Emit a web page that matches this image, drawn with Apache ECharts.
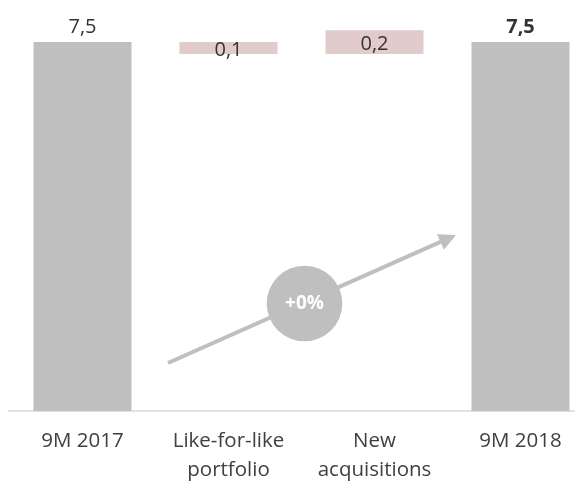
<!DOCTYPE html>
<html>
<head>
<meta charset="utf-8">
<script src="https://cdn.jsdelivr.net/npm/echarts@6/dist/echarts.min.js"></script>
<style>
  html, body { margin: 0; padding: 0; background: #ffffff; }
  #chart { width: 575px; height: 482px; }
</style>
</head>
<body>
<div id="chart"></div>
<script>
// Bridge of the result from 9M 2017 to 9M 2018
const categories = ['9M 2017', 'Like-for-like\nportfolio', 'New\nacquisitions', '9M 2018'];
const totals = [7.5, null, null, 7.5];       // opening and closing totals
const changes = [null, -0.1, 0.2, null];     // movements between them
const growthLabel = '+0%';

const FONT = '"Open Sans", "Noto Sans", sans-serif';
const GREY = '#bfbfbf';
const PINK = '#e2cbcb';
const TEXT = '#333333';

// Floating pieces of the waterfall: invisible base + visible step
const baseData = [];
const stepData = [];
const totalData = [];
let level = totals[0];
for (let i = 0; i < categories.length; i++) {
  if (totals[i] != null) {
    baseData.push('-');
    stepData.push('-');
    totalData.push(totals[i]);
    level = totals[i];
  } else {
    const c = changes[i];
    const start = c < 0 ? level + c : level;
    baseData.push(+start.toFixed(4));
    stepData.push({ value: Math.abs(c), signed: c });
    totalData.push('-');
    level = +(level + c).toFixed(4);
  }
}

const fmt = v => Math.abs(v).toFixed(1).replace('.', ',');

const chart = echarts.init(document.getElementById('chart'), null, { renderer: 'canvas' });

// Growth arrow geometry (annotation)
const tail = [168, 363];
const tip = [456, 235];
const dx = tip[0] - tail[0], dy = tip[1] - tail[1];
const len = Math.hypot(dx, dy);
const ux = dx / len, uy = dy / len;
const headLen = 17, headHalf = 8.5;
const bx = tip[0] - ux * headLen, by = tip[1] - uy * headLen;
const nx = -uy, ny = ux;

const BAR_W = 98;

chart.setOption({
  animation: false,
  backgroundColor: '#ffffff',
  grid: {
    left: 9.5, width: 584, top: 18.26, bottom: 71,
    containLabel: false,
    outerBoundsMode: 'none'
  },
  xAxis: {
    type: 'category',
    data: categories,
    axisLine: { show: false },
    axisTick: { show: false },
    axisLabel: {
      color: '#404040',
      fontFamily: FONT,
      fontSize: 20.5,
      lineHeight: 29,
      margin: 16,
      interval: 0,
      hideOverlap: false
    }
  },
  yAxis: {
    type: 'value',
    min: 4.4,
    max: 7.7,
    show: false,
    splitLine: { show: false }
  },
  series: [
    {
      name: 'base',
      type: 'bar',
      stack: 'bridge',
      barWidth: BAR_W,
      clip: true,
      itemStyle: { color: 'transparent' },
      emphasis: { disabled: true },
      data: baseData
    },
    {
      name: 'change',
      type: 'bar',
      stack: 'bridge',
      barWidth: BAR_W,
      clip: true,
      itemStyle: { color: PINK },
      label: {
        show: true,
        position: 'inside',
        color: TEXT,
        fontFamily: FONT,
        fontSize: 20,
        offset: [0, 2],
        formatter: p => fmt(p.data.signed)
      },
      data: stepData
    },
    {
      name: 'total',
      type: 'bar',
      stack: 'bridge',
      barWidth: BAR_W,
      clip: true,
      itemStyle: { color: GREY },
      label: {
        show: true,
        position: 'top',
        distance: 5,
        color: TEXT,
        fontFamily: FONT,
        fontSize: 20,
        formatter: p => p.dataIndex === categories.length - 1
          ? '{b|' + fmt(p.value) + '}'
          : fmt(p.value),
        rich: {
          b: { fontFamily: FONT, fontSize: 20, fontWeight: 'bold', color: TEXT }
        }
      },
      data: totalData
    }
  ],
  graphic: [
    {
      type: 'line',
      shape: { x1: 8, y1: 411, x2: 575, y2: 411 },
      style: { stroke: '#d9d9d9', lineWidth: 1.5 },
      silent: true
    },
    {
      type: 'line',
      shape: { x1: tail[0], y1: tail[1], x2: bx, y2: by },
      style: { stroke: GREY, lineWidth: 4 },
      silent: true,
      z: 10
    },
    {
      type: 'polygon',
      shape: {
        points: [
          tip,
          [bx + nx * headHalf, by + ny * headHalf],
          [bx - nx * headHalf, by - ny * headHalf]
        ]
      },
      style: { fill: GREY },
      silent: true,
      z: 10
    },
    {
      type: 'circle',
      shape: { cx: 304.5, cy: 303.5, r: 37.8 },
      style: { fill: GREY },
      silent: true,
      z: 11
    },
    {
      type: 'text',
      x: 304.5,
      y: 304,
      style: {
        text: growthLabel,
        fill: '#ffffff',
        font: 'bold 19px ' + FONT,
        align: 'center',
        verticalAlign: 'middle'
      },
      silent: true,
      z: 12
    }
  ]
});
</script>
</body>
</html>
